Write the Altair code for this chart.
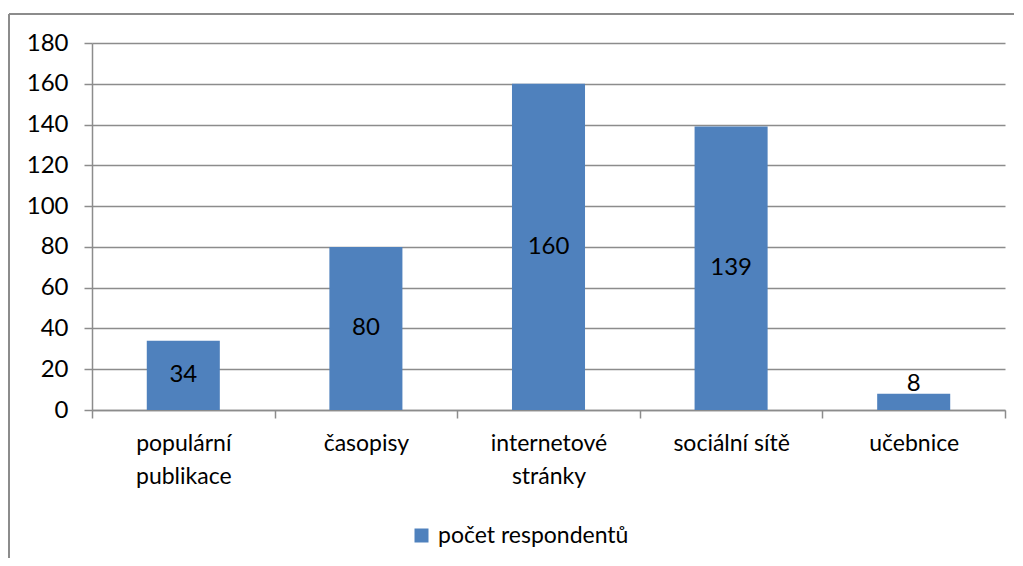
import altair as alt
import pandas as pd

categories = ["populární\npublikace", "časopisy", "internetové\nstránky", "sociální sítě", "učebnice"]
values = [34, 80, 160, 139, 8]
series_name = "počet respondentů"
y_ticks = [0, 20, 40, 60, 80, 100, 120, 140, 160, 180]

df = pd.DataFrame({"cat": categories, "val": values, "series": [series_name] * len(values)})

FONT = "Lato"
GRID = "#8c8c8c"
BLUE = "#4F81BD"
NUM_SIZE = 24
TXT_SIZE = 23

x_enc = alt.X(
    "cat:N",
    sort=categories,
    title=None,
    scale=alt.Scale(paddingInner=0, paddingOuter=0),
    axis=alt.Axis(
        labelAngle=0,
        labelExpr="split(datum.label, '\\n')",
        labelLineHeight=33,
        labelPadding=14,
        labelFontSize=TXT_SIZE,
        labelFont=FONT,
        labelColor="black",
        tickBand="extent",
        tickSize=8,
        tickColor=GRID,
        tickWidth=1.5,
        domainColor=GRID,
        domainWidth=1.5,
        grid=False,
    ),
)

bars = alt.Chart(df).mark_bar(width=alt.RelativeBandSize(0.4)).encode(
    x=x_enc,
    y=alt.Y(
        "val:Q",
        title=None,
        scale=alt.Scale(domain=[0, 180], nice=False),
        axis=alt.Axis(
            values=y_ticks,
            labelFontSize=NUM_SIZE,
            labelFont=FONT,
            labelColor="black",
            labelPadding=16,
            tickSize=8,
            tickColor=GRID,
            tickWidth=1.5,
            domainColor=GRID,
            domainWidth=1.5,
            grid=True,
            gridColor=GRID,
            gridWidth=1.5,
        ),
    ),
    color=alt.Color(
        "series:N",
        scale=alt.Scale(range=[BLUE]),
        legend=alt.Legend(
            title=None,
            orient="none",
            legendX=318,
            legendY=481,
            symbolType="square",
            symbolSize=196,
            symbolStrokeWidth=0,
            symbolOpacity=1,
            labelFontSize=TXT_SIZE,
            labelFont=FONT,
            labelColor="black",
            labelOffset=5,
            labelLimit=400,
            padding=0,
        ),
    ),
)

labels_in = alt.Chart(df).transform_filter("datum.val >= 20").transform_calculate(
    mid="datum.val / 2"
).mark_text(font=FONT, fontSize=NUM_SIZE, color="black", baseline="middle").encode(
    x=alt.X("cat:N", sort=categories),
    y=alt.Y("mid:Q"),
    text="val:Q",
)

labels_out = alt.Chart(df).transform_filter("datum.val < 20").mark_text(
    font=FONT, fontSize=NUM_SIZE, color="black", baseline="alphabetic", dy=-3
).encode(
    x=alt.X("cat:N", sort=categories),
    y=alt.Y("val:Q"),
    text="val:Q",
)

frame_top = alt.Chart(df).mark_rule(color=GRID, strokeWidth=1.5).encode(
    x=alt.value(-83), x2=alt.value(922), y=alt.value(-29)
)
frame_left = alt.Chart(df).mark_rule(color=GRID, strokeWidth=1.5).encode(
    x=alt.value(-83), y=alt.value(-29), y2=alt.value(515)
)

chart = alt.layer(bars, labels_in, labels_out, frame_top, frame_left).properties(
    width=913,
    height=367,
    padding={"left": 0, "top": 5, "right": 0, "bottom": 0},
    background="white",
).configure_view(stroke=None)

chart.save("out.html", embed_options={"renderer": "svg", "actions": False})
